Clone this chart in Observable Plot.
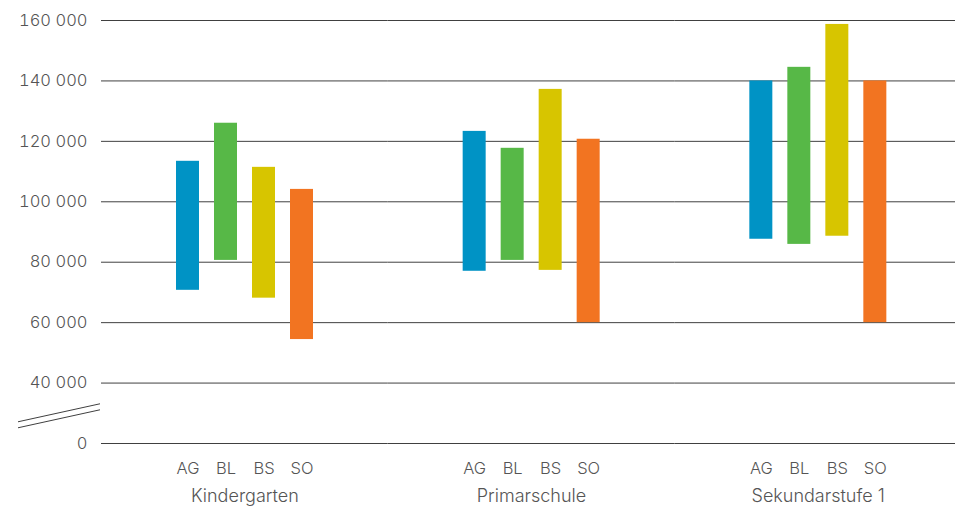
<!DOCTYPE html>
<html><head><meta charset="utf-8">
<script src="https://cdn.jsdelivr.net/npm/d3@7"></script>
<script src="https://cdn.jsdelivr.net/npm/@observablehq/plot@0.6"></script>
<style>html,body{margin:0;padding:0;overflow:hidden;background:#fff;font-family:Inter,sans-serif;width:955px;height:507px}#chart{width:955px;height:507px}#chart svg{display:block;max-width:none !important}</style>
</head><body><div id="chart"></div>
<script>
const groups = ["Kindergarten", "Primarschule", "Sekundarstufe 1"];
const states = ["AG", "BL", "BS", "SO"];
const colors = ["#0093c5", "#57b847", "#d7c500", "#f27421"];
const lowKindergarten = [70700, 80600, 68100, 54400];
const highKindergarten = [113400, 126000, 111400, 104100];
const lowPrimarschule = [77000, 80600, 77300, 60000];
const highPrimarschule = [123300, 117700, 137200, 120700];
const lowSekundarstufe = [87600, 85900, 88600, 60000];
const highSekundarstufe = [140000, 144500, 158700, 140000];
const yTicks = [20000, 40000, 60000, 80000, 100000, 120000, 140000, 160000];
const yTickLabels = ["0", "40 000", "60 000", "80 000", "100 000", "120 000", "140 000", "160 000"];

const lows = [lowKindergarten, lowPrimarschule, lowSekundarstufe];
const highs = [highKindergarten, highPrimarschule, highSekundarstufe];
const rows = [];
groups.forEach((g, gi) => states.forEach((s, si) => rows.push({group: g, state: s, low: lows[gi][si], high: highs[gi][si]})));

const chart = Plot.plot({
  width: 955, height: 507,
  marginLeft: 101, marginRight: 0, marginTop: 20, marginBottom: 64,
  facet: {marginTop: 0, marginRight: 0, marginBottom: 0, marginLeft: 0},
  style: {fontFamily: "Inter, sans-serif", fontSize: "16.5px", fontWeight: 300, color: "#555", background: "#fff", overflow: "visible", maxWidth: "none"},
  fx: {domain: groups, padding: 0, range: [101, 961], round: false, axis: null},
  x: {domain: states, paddingInner: 0.4, paddingOuter: 1.97, axis: null, label: null},
  y: {domain: [20000, 160000], axis: null},
  color: {domain: states, range: colors},
  marks: [
    Plot.ruleY(yTicks, {stroke: "#404040", strokeWidth: 1}),
    Plot.rectY(rows, {fx: "group", x: "state", y1: "low", y2: "high", fill: "state"}),
    Plot.axisY({ticks: yTicks, tickFormat: d => yTickLabels[yTicks.indexOf(d)], tickSize: 0, tickPadding: 14, fill: "#555"}),
    Plot.axisX({anchor: "bottom", tickSize: 0, tickPadding: 19, fill: "#555", label: null}),
    Plot.text(groups, {fx: d => d, text: d => d, frameAnchor: "bottom", lineAnchor: "middle", dy: 53, fontSize: 18, fill: "#555"})
  ]
});
document.getElementById("chart").appendChild(chart);

// axis break marks
const y = chart.scale("y");
const yMid = (y.apply(yTicks[0]) + y.apply(yTicks[1])) / 2;
const svg = d3.select(chart);
[0, 6].forEach(off => {
  svg.append("line")
    .attr("x1", 18).attr("y1", yMid + 9 + off)
    .attr("x2", 100).attr("y2", yMid - 9 + off)
    .attr("stroke", "#404040").attr("stroke-width", 1);
});
</script></body></html>
